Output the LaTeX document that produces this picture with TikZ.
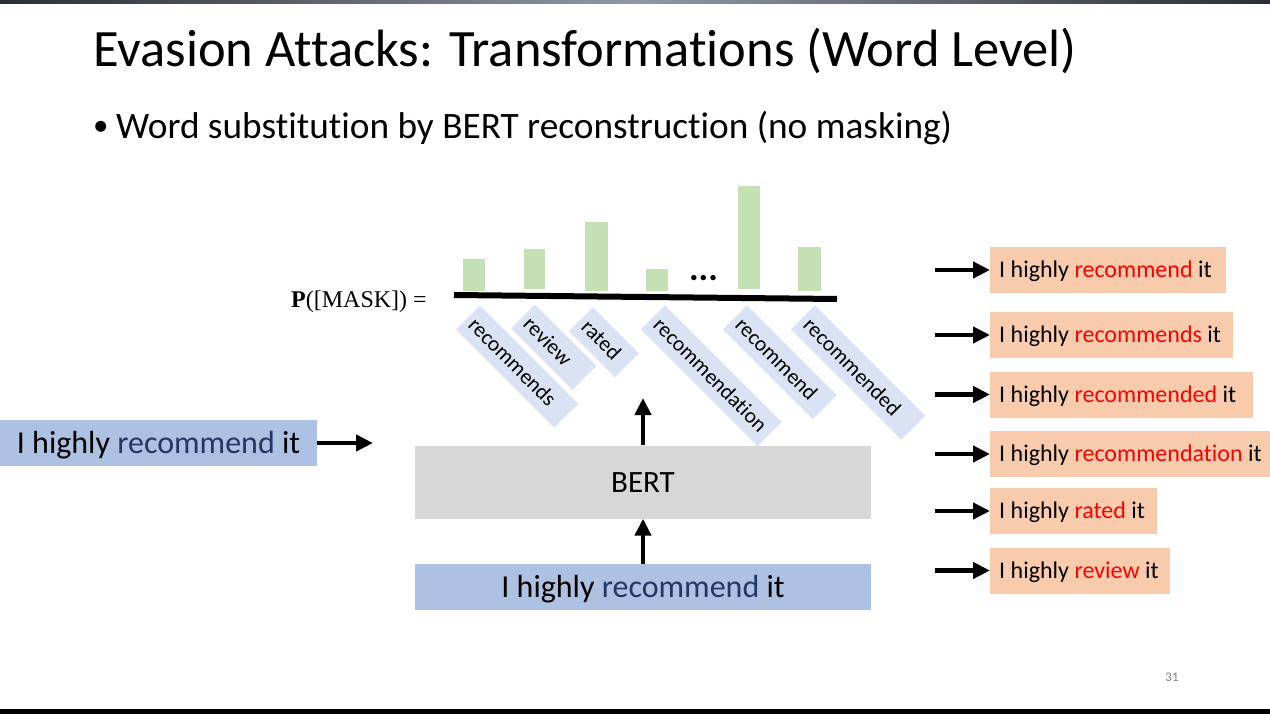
\documentclass[tikz,border=0pt]{standalone}
\usepackage{fontspec}
\setmainfont{Carlito}[Ligatures={NoCommon,NoContextual}]
\newfontfamily\mathlike{Liberation Serif}
\usetikzlibrary{arrows.meta}
\definecolor{barg}{HTML}{C5E0B4}
\definecolor{lblue}{HTML}{DAE3F3}
\definecolor{midblue}{HTML}{ADC1E3}
\definecolor{peach}{HTML}{F8CBAD}
\definecolor{bertgray}{HTML}{D7D7D7}
\definecolor{navy}{HTML}{203864}
\definecolor{wred}{HTML}{FF0000}
\definecolor{bardark}{HTML}{2B2E35}
\definecolor{barlight}{HTML}{8E99A8}
\definecolor{pgnum}{HTML}{808080}
\begin{document}
\begin{tikzpicture}[x=1pt,y=-1pt,
  lbl/.style={fill=lblue, rotate=-45, anchor=north west, minimum height=34pt,
    inner xsep=6pt, inner ysep=0pt, align=left, font=\fontsize{21.5}{24}\selectfont},
  outbox/.style={fill=peach, anchor=west, minimum height=46pt, inner xsep=9pt,
    inner ysep=0pt, text height=15pt, text depth=0pt, font=\fontsize{24}{28}\selectfont},
  bluebox/.style={fill=midblue, minimum height=46pt, inner sep=0pt,
    text height=20pt, text depth=0pt, font=\fontsize{32}{38}\selectfont},
  arr/.style={line width=4.5pt, -{Triangle[length=17pt,width=16pt]}},
  bar/.style={fill=barg}
]
\useasboundingbox (0,0) rectangle (1270,714);
\fill[white] (0,0) rectangle (1270,714);
% top and bottom bars
\shade[left color=bardark, right color=bardark, middle color=barlight] (0,0) rectangle (1270,4);
\fill[black] (0,709) rectangle (1270,714);

% title and bullet
\node[anchor=base west, inner sep=0pt, font=\fontsize{52.5}{60}\selectfont] (title) at (93,67)
  {Evasion Attacks: Transformations (Word Level)};
\node[anchor=base west, inner sep=0pt, font=\fontsize{31}{40}\selectfont] (bdot) at (93,136) {•};
\node[anchor=base west, inner sep=0pt, font=\fontsize{37.3}{44}\selectfont] (bullet) at (116,139)
  {Word substitution by BERT reconstruction (no masking)};

% probability label
\node[anchor=base west, inner sep=0pt, font=\mathlike\fontsize{24}{28}\selectfont] (plabel) at (291,308)
  {\textbf{P}([MASK]) =};

% bars
\fill[bar] (463,259) rectangle (485,291);
\fill[bar] (524,249) rectangle (545,289);
\fill[bar] (585,222) rectangle (608,291);
\fill[bar] (646,269) rectangle (668,291);
\fill[bar] (738,186) rectangle (760,289);
\fill[bar] (798,247) rectangle (821,291);
\node[anchor=base, inner sep=0pt, font=\bfseries\fontsize{36}{40}\selectfont] (dots) at (703.5,281) {...};
\draw[line width=6pt] (454,295) -- (837,299);

% rotated candidate labels
\node[lbl, text width=127pt] (c1) at (480,305) {recommends};
\node[lbl, text width=75pt] (c2) at (535,304) {review};
\node[lbl, text width=53pt] (c3) at (593,307) {rated};
\node[lbl, text width=153pt] (c4) at (665,305) {recommendation};
\node[lbl, text width=115pt] (c5) at (747,305) {recommend};
\node[lbl, text width=144pt] (c6) at (815,305) {recommended};

% left input
\node[bluebox, minimum width=317pt] (inL) at (158.5,443) {I highly \textcolor{navy}{recommend} it};
\coordinate (inLtip) at (373,443);
\draw[arr] (inL.east) -- (inLtip);

% BERT and input
\node[fill=bertgray, minimum width=456pt, minimum height=73pt, inner sep=0pt,
  text height=20pt, text depth=0pt, font=\fontsize{31}{36}\selectfont] (bert) at (643,482) {BERT};
\node[bluebox, minimum width=456pt] (inp) at (643,587) {I highly \textcolor{navy}{recommend} it};
\coordinate (toptip) at (643,398);
\draw[arr] (inp.north) -- (bert.south);
\draw[arr] (bert.north) -- (toptip);

% outputs
\node[outbox] (o1) at (990,270) {\makebox[218pt][l]{I highly \textcolor{wred}{recommend} it}};
\node[outbox] (o2) at (990,335) {\makebox[225pt][l]{I highly \textcolor{wred}{recommends} it}};
\node[outbox] (o3) at (990,394.5) {\makebox[245pt][l]{I highly \textcolor{wred}{recommended} it}};
\node[outbox] (o4) at (990,454) {\makebox[262pt][l]{I highly \textcolor{wred}{recommendation} it}};
\node[outbox] (o5) at (990,511) {\makebox[149pt][l]{I highly \textcolor{wred}{rated} it}};
\node[outbox] (o6) at (990,570.5) {\makebox[162pt][l]{I highly \textcolor{wred}{review} it}};
\foreach \i/\yy in {1/270,2/335,3/394.5,4/454,5/511,6/570.5}{
  \coordinate (s\i) at (935,\yy);
  \draw[arr] (s\i) -- (o\i.west);
}

% page number
\node[font=\fontsize{13}{15}\selectfont, text=pgnum] (pg) at (1172,677) {31};
\end{tikzpicture}
\end{document}
